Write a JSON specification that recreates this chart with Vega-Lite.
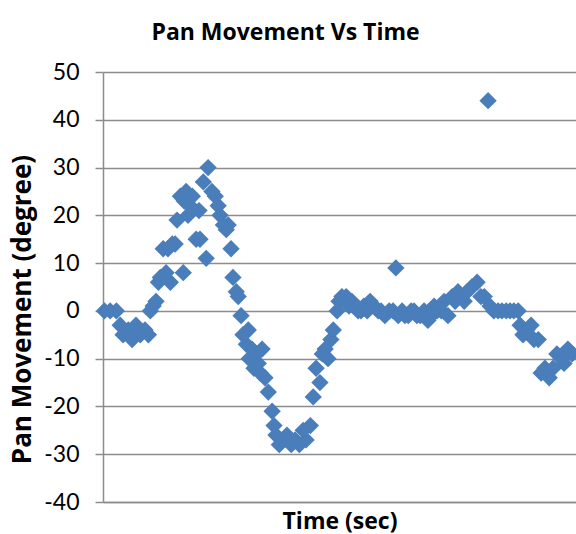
{
  "$schema": "https://vega.github.io/schema/vega-lite/v6.json",
  "autosize": "none",
  "width": 473,
  "height": 430,
  "padding": {"left": 103, "top": 72, "right": 0, "bottom": 32},
  "background": "white",
  "title": {
    "text": "Pan Movement Vs Time",
    "font": "Open Sans",
    "fontSize": 23,
    "fontWeight": "bold",
    "color": "black",
    "anchor": "middle",
    "dx": -54,
    "dy": 29,
    "baseline": "bottom",
    "offset": 22
  },
  "data": {
    "values": [
      {"t": 1.3, "pan": 0}, {"t": 2.5, "pan": 0}, {"t": 3.8, "pan": 0},
      {"t": 4.6, "pan": -3}, {"t": 5.2, "pan": -5}, {"t": 6.3, "pan": -4},
      {"t": 7.1, "pan": -6}, {"t": 7.9, "pan": -3}, {"t": 8.8, "pan": -5},
      {"t": 9.8, "pan": -4}, {"t": 10.5, "pan": -5}, {"t": 10.9, "pan": 0},
      {"t": 11.5, "pan": 1}, {"t": 12.1, "pan": 2}, {"t": 12.6, "pan": 6},
      {"t": 13.0, "pan": 7}, {"t": 13.6, "pan": 13}, {"t": 14.2, "pan": 8},
      {"t": 14.6, "pan": 13}, {"t": 15.1, "pan": 6}, {"t": 15.5, "pan": 14},
      {"t": 16.1, "pan": 14}, {"t": 16.5, "pan": 19}, {"t": 17.2, "pan": 24},
      {"t": 17.8, "pan": 8}, {"t": 18.0, "pan": 23}, {"t": 18.4, "pan": 25},
      {"t": 18.8, "pan": 20}, {"t": 19.2, "pan": 22}, {"t": 19.7, "pan": 24},
      {"t": 20.5, "pan": 15}, {"t": 21.1, "pan": 21}, {"t": 21.3, "pan": 15},
      {"t": 22.0, "pan": 27}, {"t": 22.6, "pan": 11}, {"t": 23.0, "pan": 30},
      {"t": 23.8, "pan": 25}, {"t": 24.5, "pan": 24}, {"t": 25.1, "pan": 22},
      {"t": 25.5, "pan": 20}, {"t": 26.2, "pan": 18}, {"t": 26.8, "pan": 17},
      {"t": 27.2, "pan": 18}, {"t": 27.8, "pan": 13}, {"t": 28.2, "pan": 7},
      {"t": 28.9, "pan": 4}, {"t": 29.3, "pan": 3}, {"t": 29.9, "pan": -1},
      {"t": 30.3, "pan": -5}, {"t": 31.0, "pan": -7}, {"t": 31.4, "pan": -4},
      {"t": 31.6, "pan": -10}, {"t": 32.2, "pan": -8}, {"t": 32.6, "pan": -12},
      {"t": 33.1, "pan": -9}, {"t": 33.5, "pan": -11}, {"t": 33.9, "pan": -13},
      {"t": 34.3, "pan": -8}, {"t": 34.9, "pan": -14}, {"t": 35.6, "pan": -17},
      {"t": 36.4, "pan": -21}, {"t": 36.8, "pan": -24}, {"t": 37.2, "pan": -26},
      {"t": 37.9, "pan": -28}, {"t": 38.7, "pan": -27}, {"t": 39.5, "pan": -26},
      {"t": 40.4, "pan": -28}, {"t": 41.2, "pan": -27}, {"t": 42.1, "pan": -28},
      {"t": 42.9, "pan": -25}, {"t": 43.5, "pan": -27}, {"t": 44.4, "pan": -24},
      {"t": 45.0, "pan": -18}, {"t": 45.6, "pan": -12}, {"t": 46.4, "pan": -15},
      {"t": 46.9, "pan": -9}, {"t": 47.5, "pan": -8}, {"t": 48.1, "pan": -10},
      {"t": 48.7, "pan": -6}, {"t": 49.2, "pan": -4}, {"t": 50.0, "pan": 0},
      {"t": 50.4, "pan": 2}, {"t": 51.0, "pan": 3}, {"t": 51.9, "pan": 3},
      {"t": 52.5, "pan": 1}, {"t": 53.1, "pan": 2}, {"t": 53.8, "pan": 1},
      {"t": 54.4, "pan": 0}, {"t": 55.0, "pan": 0}, {"t": 55.6, "pan": 1},
      {"t": 56.3, "pan": 0}, {"t": 56.9, "pan": 2}, {"t": 57.7, "pan": 1},
      {"t": 58.6, "pan": 0}, {"t": 59.2, "pan": 0}, {"t": 60.0, "pan": -1},
      {"t": 60.9, "pan": 0}, {"t": 61.7, "pan": 0}, {"t": 62.3, "pan": 9},
      {"t": 62.8, "pan": -1}, {"t": 63.6, "pan": 0}, {"t": 64.2, "pan": -1},
      {"t": 64.9, "pan": -1}, {"t": 65.5, "pan": 0}, {"t": 66.1, "pan": 0},
      {"t": 66.7, "pan": -1}, {"t": 67.4, "pan": -1}, {"t": 68.2, "pan": 0},
      {"t": 69.0, "pan": -2}, {"t": 69.7, "pan": -1}, {"t": 70.3, "pan": 1},
      {"t": 70.9, "pan": 0}, {"t": 71.8, "pan": 0}, {"t": 72.4, "pan": 2},
      {"t": 73.2, "pan": -1}, {"t": 74.1, "pan": 3}, {"t": 74.7, "pan": 2},
      {"t": 75.3, "pan": 4}, {"t": 75.9, "pan": 3}, {"t": 76.6, "pan": 2},
      {"t": 77.2, "pan": 4}, {"t": 78.2, "pan": 5}, {"t": 79.3, "pan": 6},
      {"t": 80.1, "pan": 3}, {"t": 80.8, "pan": 3}, {"t": 81.6, "pan": 44},
      {"t": 82.0, "pan": 1}, {"t": 82.8, "pan": 0}, {"t": 83.7, "pan": 0},
      {"t": 84.5, "pan": 0}, {"t": 85.4, "pan": 0}, {"t": 86.2, "pan": 0},
      {"t": 87.0, "pan": 0}, {"t": 87.9, "pan": 0}, {"t": 88.3, "pan": -3},
      {"t": 88.9, "pan": -5}, {"t": 89.7, "pan": -4}, {"t": 90.6, "pan": -3},
      {"t": 91.2, "pan": -6}, {"t": 92.1, "pan": -6}, {"t": 92.7, "pan": -13},
      {"t": 93.5, "pan": -12}, {"t": 94.4, "pan": -14}, {"t": 95.2, "pan": -12},
      {"t": 96.0, "pan": -9}, {"t": 96.9, "pan": -10}, {"t": 97.5, "pan": -11},
      {"t": 98.3, "pan": -8}, {"t": 99.2, "pan": -9}
    ]
  },
  "mark": {
    "type": "point",
    "shape": "diamond",
    "filled": true,
    "size": 300,
    "color": "#4a7ebb",
    "opacity": 1
  },
  "encoding": {
    "x": {
      "field": "t",
      "type": "quantitative",
      "scale": {"domain": [1, 100], "nice": false, "zero": false},
      "axis": {
        "title": "Time (sec)",
        "titleFont": "Open Sans",
        "titleFontSize": 23,
        "titleFontWeight": "bold",
        "titleColor": "black",
        "titleBaseline": "alphabetic",
        "titleY": 26,
        "labels": false,
        "ticks": false,
        "grid": false,
        "domainColor": "#8c8c8c",
        "domainWidth": 1.5
      }
    },
    "y": {
      "field": "pan",
      "type": "quantitative",
      "scale": {"domain": [-40, 50], "nice": false},
      "axis": {
        "title": "Pan Movement (degree)",
        "titleFont": "Open Sans",
        "titleFontSize": 26,
        "titleFontWeight": "bold",
        "titleColor": "black",
        "titleBaseline": "alphabetic",
        "titleAlign": "center",
        "titleAngle": -90,
        "titleX": -73,
        "titleY": 237,
        "values": [-40, -30, -20, -10, 0, 10, 20, 30, 40, 50],
        "labelExpr": "'' + datum.value",
        "labelFont": "Lato",
        "labelFontSize": 23,
        "labelColor": "black",
        "labelPadding": 16,
        "tickSize": 8,
        "tickColor": "#8c8c8c",
        "tickWidth": 1.5,
        "domainColor": "#8c8c8c",
        "domainWidth": 1.5,
        "gridColor": "#8c8c8c",
        "gridWidth": 1.5
      }
    }
  },
  "config": {"view": {"stroke": null}}
}
